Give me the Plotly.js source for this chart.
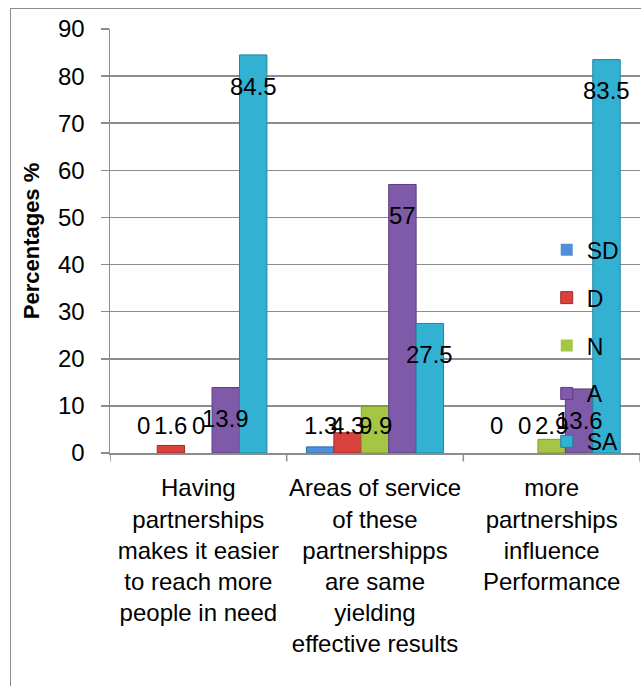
<!DOCTYPE html>
<html>
<head>
<meta charset="utf-8">
<script src="https://cdn.plot.ly/plotly-3.0.1.min.js"></script>
<style>
  html, body { margin: 0; padding: 0; background: #fff; }
  #chart { width: 641px; height: 686px; }
  #frame { position: absolute; left: 10px; top: 8px; width: 640px; height: 700px;
           border: 1.5px solid #8c8c8c; pointer-events: none; }
</style>
</head>
<body>
<div id="chart"></div>
<div id="frame"></div>
<script>
// ---- data ----
const categories = [
  "Having partnerships makes it easier to reach more people in need",
  "Areas of service of these partnershipps are same yielding effective results",
  "more partnerships influence Performance"
];
const categoryLines = [
  ["Having", "partnerships", "makes it easier", "to reach more", "people in need"],
  ["Areas of service", "of these", "partnershipps", "are same", "yielding", "effective results"],
  ["more", "partnerships", "influence", "Performance"]
];
const seriesNames = ["SD", "D", "N", "A", "SA"];
const SD = [0, 1.3, 0];
const D  = [1.6, 4.3, 0];
const N  = [0, 9.9, 2.9];
const A  = [13.9, 57, 13.6];
const SA = [84.5, 27.5, 83.5];
const yTicks = [0, 10, 20, 30, 40, 50, 60, 70, 80, 90];

// ---- styling ----
const seriesValues = [SD, D, N, A, SA];
const fillColors = ["#4f8fd8", "#d8413c", "#a5c545", "#7f5aa8", "#33b1d3"];
const lineColors = ["#2f6aae", "#a52b27", "#7f9a2e", "#5c3d82", "#1f84a1"];
const FONT = "Liberation Sans, Arial, sans-serif";
const bargap = 0.224;
const nSeries = seriesNames.length;
const barW = (1 - bargap) / nSeries;

const traces = seriesNames.map((name, i) => ({
  type: "bar",
  name: name,
  x: categories.map((c, k) => k),
  y: seriesValues[i],
  legendgroup: name,
  marker: {
    color: fillColors[i],
    line: { color: lineColors[i], width: seriesValues[i].map(v => v > 0 ? 1 : 0) }
  },
  hoverinfo: "name+y"
}));

const annotations = [];
seriesValues.forEach((vals, i) => {
  vals.forEach((v, k) => {
    annotations.push({
      x: k + (i - (nSeries - 1) / 2) * barW,
      y: Math.max(v - 6.6, 5.9),
      xref: "x", yref: "y",
      text: String(v),
      showarrow: false,
      xanchor: "center", yanchor: "middle",
      font: { family: FONT, size: 24, color: "#000" }
    });
  });
});

const layout = {
  width: 641, height: 686,
  margin: { l: 110, r: 1, t: 29, b: 233 },
  paper_bgcolor: "#fff", plot_bgcolor: "#fff",
  barmode: "group", bargap: bargap, bargroupgap: 0,
  showlegend: true,
  legend: {
    x: 0.824, y: 0.530, xanchor: "left", yanchor: "top",
    bgcolor: "rgba(0,0,0,0)",
    font: { family: FONT, size: 23, color: "#000" },
    tracegroupgap: 15
  },
  xaxis: {
    type: "linear",
    range: [-0.5, categories.length - 0.5],
    tickvals: categories.map((c, k) => k),
    ticktext: categoryLines.map(l => l.join("<br>")),
    showgrid: false, zeroline: false,
    showline: true, linecolor: "#8c8c8c", linewidth: 1.5,
    ticks: "",
    tickfont: { family: FONT, size: 24, color: "#000" },
    ticklabelstandoff: 13
  },
  yaxis: {
    range: [0, 90],
    tickvals: yTicks,
    ticktext: yTicks.map(String),
    showgrid: true, gridcolor: "#8c8c8c", gridwidth: 1.5,
    zeroline: false,
    showline: true, linecolor: "#8c8c8c", linewidth: 1.5,
    ticks: "outside", ticklen: 8, tickcolor: "#8c8c8c", tickwidth: 1.5,
    tickfont: { family: FONT, size: 24, color: "#000" },
    ticklabelstandoff: 11,
    title: { text: "Percentages %", font: { family: FONT, size: 22, color: "#000", weight: "bold" }, standoff: 12 }
  },
  annotations: annotations,
  shapes: [-0.5, 0.5, 1.5, 2.5].map(b => ({
    type: "line", xref: "x", yref: "paper", x0: b, x1: b, y0: 0, y1: -0.02,
    line: { color: "#8c8c8c", width: 1.5 }
  }))
};

Plotly.newPlot("chart", traces, layout, { displayModeBar: false, staticPlot: true });
</script>
</body>
</html>
